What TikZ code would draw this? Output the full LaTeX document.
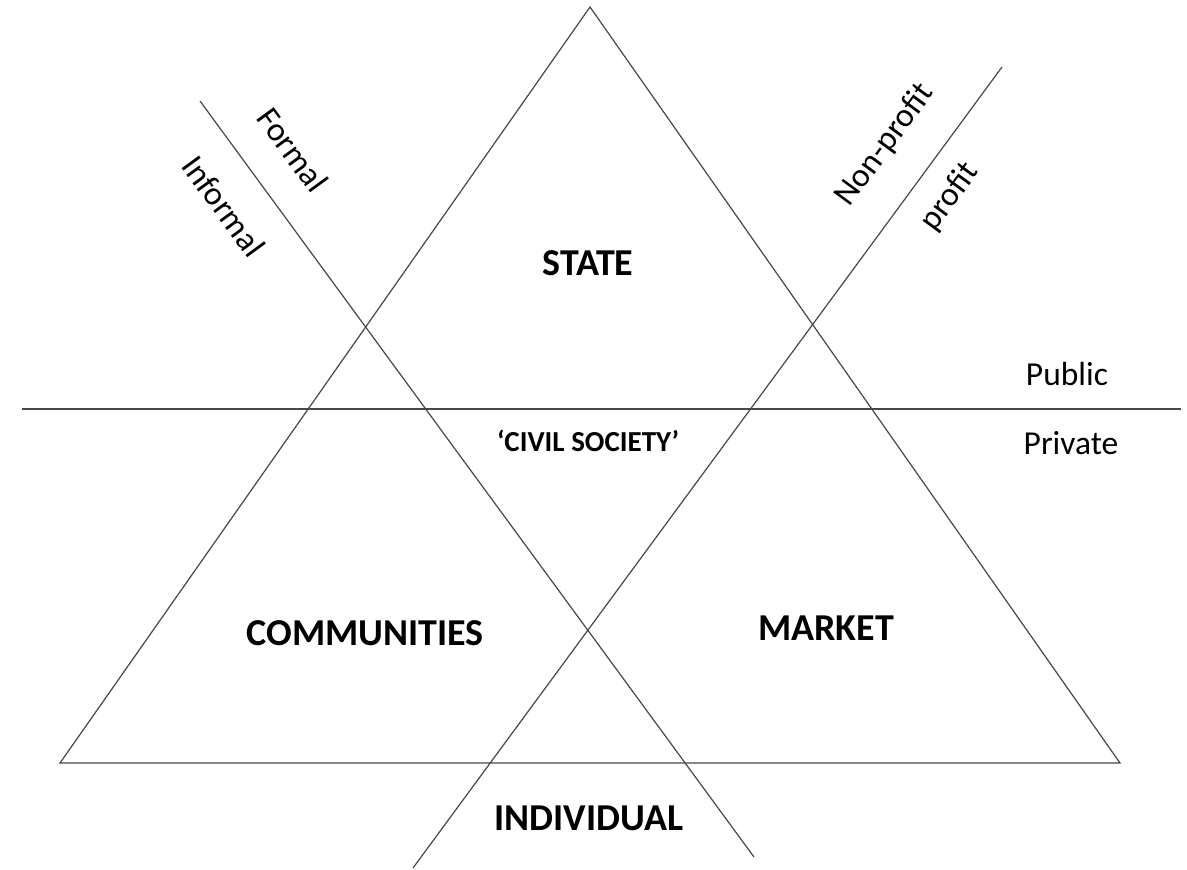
\documentclass[tikz,border=0pt]{standalone}
\usepackage{fontspec}
\setmainfont{Carlito}
\begin{document}
\begin{tikzpicture}[x=1pt,y=-1pt,
  ln/.style={line width=1.2pt,draw=black!72},
  big/.style={font=\fontsize{38}{44}\selectfont\bfseries},
  small/.style={font=\fontsize{29}{34}\selectfont\bfseries},
  lab/.style={font=\fontsize{33.5}{40}\selectfont}]
\useasboundingbox[fill=white] (0,0) rectangle (1187,870);
\coordinate (apex) at (590,7);
\coordinate (bl) at (60,763);
\coordinate (br) at (1120,763);
\coordinate (h1) at (22,409);
\coordinate (h2) at (1181,409);
\coordinate (d1a) at (200,101);
\coordinate (d1b) at (754,857);
\coordinate (d2a) at (1002,67);
\coordinate (d2b) at (413,868);
\draw[ln] (apex) -- (bl) -- (br) -- cycle;
\draw[ln] (h1) -- (h2);
\draw[ln] (d1a) -- (d1b);
\draw[ln] (d2a) -- (d2b);
\node[big] (state) at (588,263) {STATE};
\node[small] (civil) at (588,441) {‘CIVIL SOCIETY’};
\node[big] (comm) at (365,633) {COMMUNITIES};
\node[big] (market) at (826,628) {MARKET};
\node[big] (indiv) at (589,818) {INDIVIDUAL};
\node[lab] (public) at (1067,374) {Public};
\node[lab] (private) at (1071,443) {Private};
\node[lab,rotate=-53.8] (formal) at (293,150) {Formal};
\node[lab,rotate=-53.8] (informal) at (224,206) {Informal};
\node[lab,rotate=53.7] (nonprofit) at (885,145) {Non-profit};
\node[lab,rotate=53.7] (profit) at (950,197) {profit};
\end{tikzpicture}
\end{document}
